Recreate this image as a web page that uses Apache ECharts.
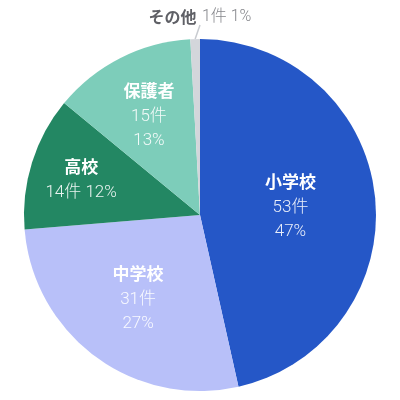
<!DOCTYPE html>
<html><head><meta charset="utf-8">
<script src="https://cdn.jsdelivr.net/npm/echarts@6/dist/echarts.min.js"></script>
<style>html,body{margin:0;padding:0;background:#fff}#c{width:400px;height:400px}</style>
</head><body><div id="c"></div>
<script>
const categories = ['小学校', '中学校', '高校', '保護者', 'その他'];
const counts = [53, 31, 14, 15, 1];
const percents = ['47%', '27%', '12%', '13%', '1%'];
const colors = ['#2557c7', '#b8c0f9', '#238763', '#7dcdba', '#d3d6db'];
// label nudges (style only)
const labelShift = [[0, 1], [-8, 9], [-32, -9], [-10, -19], [0, 0]];

const FONT = '"Noto Sans CJK JP", "Noto Sans", sans-serif';
const VFONT = 'Roboto, "Noto Sans CJK JP", sans-serif';
const data = categories.map((name, i) => {
  const item = { name, value: counts[i], itemStyle: { color: colors[i] } };
  if (i === 2) {
    item.label = { formatter: '{n|{b}}\n{v|{c}件 ' + percents[i] + '}' };
  } else if (i === 4) {
    item.label = {
      position: 'outside',
      formatter: '{on|{b}}  {ov|{c}件 ' + percents[i] + '}'
    };
    item.labelLine = { show: true, length: 12, length2: 0, lineStyle: { color: '#c8cbd0', width: 1.5 } };
  } else {
    item.label = { formatter: '{n|{b}}\n{v|{c}件}\n{v|' + percents[i] + '}' };
  }
  return item;
});

const chart = echarts.init(document.getElementById('c'), null, { renderer: 'canvas' });
chart.setOption({
  animation: false,
  series: [{
    type: 'pie',
    center: [200, 215],
    radius: 176,
    startAngle: 90,
    clockwise: true,
    avoidLabelOverlap: false,
    label: {
      show: true,
      position: 'inside',
      fontFamily: FONT,
      rich: {
        n: { color: '#ffffff', fontSize: 17, fontWeight: 'bold', fontFamily: FONT, lineHeight: 28, align: 'center' },
        v: { color: 'rgba(255,255,255,0.9)', fontSize: 17, fontWeight: 300, fontFamily: VFONT, lineHeight: 24, align: 'center' },
        on: { color: '#5f6066', fontSize: 16, fontWeight: 'bold', fontFamily: FONT },
        ov: { color: '#85868b', fontSize: 16, fontWeight: 300, fontFamily: VFONT }
      }
    },
    labelLine: { show: false },
    labelLayout: function (p) {
      const s = labelShift[p.dataIndex];
      if (p.dataIndex === 4) {
        return { x: 200, y: 17, align: 'center', verticalAlign: 'middle' };
      }
      return { dx: s[0], dy: s[1] };
    },
    data: data
  }]
});
</script></body></html>
